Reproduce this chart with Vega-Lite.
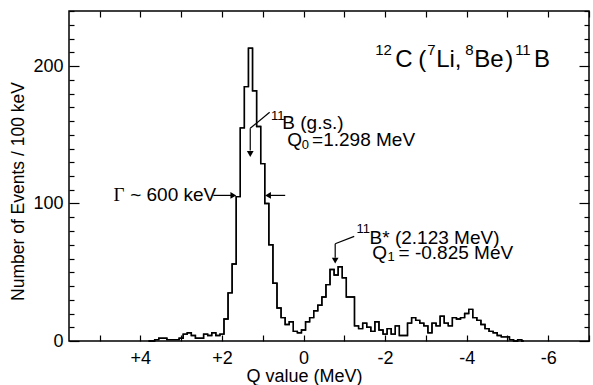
{
  "$schema": "https://vega.github.io/schema/vega-lite/v6.json",
  "width": 520,
  "height": 330,
  "autosize": "none",
  "padding": {"left": 69, "top": 11, "right": 4, "bottom": 44},
  "background": "white",
  "config": {
    "view": {"stroke": "black", "strokeWidth": 1.5},
    "font": "Liberation Sans",
    "axis": {"domain": false, "grid": false, "labelFont": "Liberation Sans", "titleFont": "Liberation Sans", "labelColor": "black", "titleColor": "black", "tickColor": "black", "tickWidth": 1.2, "titleFontWeight": "normal"}
  },
  "datasets": {
    "hist": [
      {"q": 3.8, "n": 0}, {"q": 3.7, "n": 0}, {"q": 3.6, "n": 1}, {"q": 3.5, "n": 2}, {"q": 3.4, "n": 2}, {"q": 3.3, "n": 1}, {"q": 3.2, "n": 1}, {"q": 3.1, "n": 1}, {"q": 3.0, "n": 2}, {"q": 2.9, "n": 5}, {"q": 2.8, "n": 6}, {"q": 2.7, "n": 4}, {"q": 2.6, "n": 2}, {"q": 2.5, "n": 2}, {"q": 2.4, "n": 5}, {"q": 2.3, "n": 4}, {"q": 2.2, "n": 6}, {"q": 2.1, "n": 4}, {"q": 2.0, "n": 5},
      {"q": 1.9, "n": 16}, {"q": 1.8, "n": 35}, {"q": 1.7, "n": 56}, {"q": 1.6, "n": 105}, {"q": 1.5, "n": 155}, {"q": 1.4, "n": 185}, {"q": 1.3, "n": 213}, {"q": 1.2, "n": 182}, {"q": 1.1, "n": 156}, {"q": 1.0, "n": 129}, {"q": 0.9, "n": 100}, {"q": 0.8, "n": 70}, {"q": 0.7, "n": 42}, {"q": 0.6, "n": 24}, {"q": 0.5, "n": 17}, {"q": 0.4, "n": 12}, {"q": 0.3, "n": 14}, {"q": 0.2, "n": 7}, {"q": 0.1, "n": 6}, {"q": 0.0, "n": 8},
      {"q": -0.1, "n": 14}, {"q": -0.2, "n": 17}, {"q": -0.3, "n": 22}, {"q": -0.4, "n": 26}, {"q": -0.5, "n": 32}, {"q": -0.6, "n": 41}, {"q": -0.7, "n": 52}, {"q": -0.8, "n": 48}, {"q": -0.9, "n": 54}, {"q": -1.0, "n": 46}, {"q": -1.1, "n": 32}, {"q": -1.2, "n": 32}, {"q": -1.3, "n": 11},
      {"q": -1.4, "n": 9}, {"q": -1.5, "n": 13}, {"q": -1.6, "n": 10}, {"q": -1.7, "n": 7}, {"q": -1.8, "n": 14}, {"q": -1.9, "n": 8}, {"q": -2.0, "n": 5}, {"q": -2.1, "n": 9}, {"q": -2.2, "n": 5}, {"q": -2.3, "n": 11}, {"q": -2.4, "n": 4}, {"q": -2.5, "n": 4}, {"q": -2.6, "n": 13}, {"q": -2.7, "n": 17}, {"q": -2.8, "n": 15}, {"q": -2.9, "n": 13}, {"q": -3.0, "n": 11}, {"q": -3.1, "n": 6}, {"q": -3.2, "n": 13}, {"q": -3.3, "n": 11}, {"q": -3.4, "n": 18}, {"q": -3.5, "n": 13}, {"q": -3.6, "n": 11}, {"q": -3.7, "n": 17}, {"q": -3.8, "n": 16}, {"q": -3.9, "n": 17}, {"q": -4.0, "n": 20}, {"q": -4.1, "n": 23}, {"q": -4.2, "n": 17}, {"q": -4.3, "n": 15}, {"q": -4.4, "n": 12}, {"q": -4.5, "n": 9}, {"q": -4.6, "n": 7}, {"q": -4.7, "n": 6}, {"q": -4.8, "n": 4}, {"q": -4.9, "n": 3}, {"q": -5.0, "n": 3}, {"q": -5.1, "n": 1}, {"q": -5.2, "n": 0}, {"q": -5.3, "n": 1}, {"q": -5.4, "n": 0}
    ],
    "rules": [
      {"x": 0.83, "y": 166.3, "x2": 1.306, "y2": 154.7},
      {"x": 1.306, "y": 154.7, "x2": 1.306, "y2": 138.5},
      {"x": 2.211, "y": 105.9, "x2": 1.75, "y2": 105.9},
      {"x": 0.449, "y": 105.9, "x2": 0.85, "y2": 105.9},
      {"x": -1.243, "y": 76.1, "x2": -0.777, "y2": 70.7},
      {"x": -0.777, "y": 70.7, "x2": -0.777, "y2": 60.5}
    ],
    "heads": [
      {"x": 1.306, "y": 136.0, "dir": "down"},
      {"x": 1.72, "y": 105.9, "dir": "right"},
      {"x": 0.87, "y": 105.9, "dir": "left"},
      {"x": -0.777, "y": 58.5, "dir": "down"}
    ],
    "notes": [
      {"x": 0.52, "y": 154.0, "label": "B (g.s.)"},
      {"x": 0.400, "y": 141.6, "label": "Q"},
      {"x": -0.21, "y": 141.6, "label": "=1.298 MeV"},
      {"x": -1.62, "y": 70.8, "label": "B* (2.123 MeV)"},
      {"x": -1.684, "y": 59.9, "label": "Q"},
      {"x": -2.33, "y": 59.9, "label": "= -0.825 MeV"},
      {"x": 4.25, "y": 101.6, "label": "~ 600 keV"}
    ],
    "small": [
      {"x": 0.80, "y": 160.5, "label": "11"},
      {"x": 0.044, "y": 139.4, "label": "0"},
      {"x": -1.30, "y": 78.3, "label": "11"},
      {"x": -2.058, "y": 58.0, "label": "1"}
    ],
    "gamma": [
      {"x": 4.66, "y": 101.6, "label": "Γ"}
    ],
    "titleMain": [
      {"x": -2.248, "y": 199.3, "label": "C"},
      {"x": -2.811, "y": 199.3, "label": "("},
      {"x": -3.252, "y": 199.3, "label": "Li,"},
      {"x": -4.184, "y": 199.3, "label": "Be"},
      {"x": -4.944, "y": 199.3, "label": ")"},
      {"x": -5.654, "y": 199.3, "label": "B"}
    ],
    "titleSmall": [
      {"x": -1.757, "y": 207.8, "label": "12"},
      {"x": -3.032, "y": 207.8, "label": "7"},
      {"x": -3.963, "y": 207.8, "label": "8"},
      {"x": -5.189, "y": 207.8, "label": "11"}
    ]
  },
  "resolve": {"axis": {"x": "independent", "y": "independent"}},
  "layer": [
    {
      "data": {"name": "hist"},
      "mark": {"type": "line", "interpolate": "step", "color": "black", "strokeWidth": 1.4},
      "encoding": {
        "x": {"field": "q", "type": "quantitative", "scale": {"domain": [-7.0, 5.75], "reverse": true, "nice": false, "zero": false},
          "axis": {"orient": "bottom", "values": [5, 4, 3, 2, 1, 0, -1, -2, -3, -4, -5, -6, -7], "tickSize": -6, "labelPadding": 14, "labelFontSize": 18, "labelFlush": false,
            "labelExpr": "datum.value % 2 !== 0 ? '' : (datum.value > 0 ? '+' + datum.value : (datum.value < 0 ? '-' + (-datum.value) : '0'))",
            "title": "Q value (MeV)", "titleFontSize": 18, "titleX": 235, "titleY": 40, "titleBaseline": "alphabetic"}},
        "y": {"field": "n", "type": "quantitative", "scale": {"domain": [0, 240], "nice": false},
          "axis": {"orient": "left", "values": [0, 10, 20, 30, 40, 50, 60, 70, 80, 90, 100, 110, 120, 130, 140, 150, 160, 170, 180, 190, 200, 210, 220, 230, 240],
            "tickSize": {"condition": {"test": "datum.value % 100 === 0", "value": -10}, "value": -5},
            "labelExpr": "datum.value % 100 === 0 ? datum.label : ''", "labelPadding": 16, "labelFontSize": 18, "labelFlush": false,
            "title": "Number of Events / 100 keV", "titleFontSize": 17.5, "titleX": -42, "titleY": 180}}
      }
    },
    {
      "data": {"name": "hist"},
      "mark": {"type": "line", "interpolate": "step", "color": "black", "strokeWidth": 1.4},
      "encoding": {
        "x": {"field": "q", "type": "quantitative",
          "axis": {"orient": "top", "values": [5, 4, 3, 2, 1, 0, -1, -2, -3, -4, -5, -6, -7], "tickSize": -6, "labels": false, "title": null}},
        "y": {"field": "n", "type": "quantitative",
          "axis": {"orient": "right", "values": [0, 10, 20, 30, 40, 50, 60, 70, 80, 90, 100, 110, 120, 130, 140, 150, 160, 170, 180, 190, 200, 210, 220, 230, 240],
            "tickSize": {"condition": {"test": "datum.value % 100 === 0", "value": -10}, "value": -5}, "labels": false, "title": null}}
      }
    },
    {
      "data": {"name": "rules"},
      "mark": {"type": "rule", "color": "black", "strokeWidth": 1.2},
      "encoding": {
        "x": {"field": "x", "type": "quantitative", "axis": null},
        "y": {"field": "y", "type": "quantitative", "axis": null},
        "x2": {"field": "x2"},
        "y2": {"field": "y2"}
      }
    },
    {
      "data": {"name": "heads"},
      "mark": {"type": "point", "filled": true, "color": "black", "size": 45, "opacity": 1},
      "encoding": {
        "x": {"field": "x", "type": "quantitative", "axis": null},
        "y": {"field": "y", "type": "quantitative", "axis": null},
        "shape": {"field": "dir", "type": "nominal", "legend": null, "scale": {"domain": ["down", "left", "right"], "range": ["triangle-down", "triangle-left", "triangle-right"]}}
      }
    },
    {
      "data": {"name": "notes"},
      "mark": {"type": "text", "align": "left", "baseline": "alphabetic", "fontSize": 19, "font": "Liberation Sans", "color": "black"},
      "encoding": {
        "x": {"field": "x", "type": "quantitative", "axis": null},
        "y": {"field": "y", "type": "quantitative", "axis": null},
        "text": {"field": "label"}
      }
    },
    {
      "data": {"name": "small"},
      "mark": {"type": "text", "align": "left", "baseline": "alphabetic", "fontSize": 13, "font": "Liberation Sans", "color": "black"},
      "encoding": {
        "x": {"field": "x", "type": "quantitative", "axis": null},
        "y": {"field": "y", "type": "quantitative", "axis": null},
        "text": {"field": "label"}
      }
    },
    {
      "data": {"name": "gamma"},
      "mark": {"type": "text", "align": "left", "baseline": "alphabetic", "fontSize": 19, "font": "Liberation Serif", "color": "black"},
      "encoding": {
        "x": {"field": "x", "type": "quantitative", "axis": null},
        "y": {"field": "y", "type": "quantitative", "axis": null},
        "text": {"field": "label"}
      }
    },
    {
      "data": {"name": "titleMain"},
      "mark": {"type": "text", "align": "left", "baseline": "alphabetic", "fontSize": 24, "font": "Liberation Sans", "color": "black"},
      "encoding": {
        "x": {"field": "x", "type": "quantitative", "axis": null},
        "y": {"field": "y", "type": "quantitative", "axis": null},
        "text": {"field": "label"}
      }
    },
    {
      "data": {"name": "titleSmall"},
      "mark": {"type": "text", "align": "left", "baseline": "alphabetic", "fontSize": 15, "font": "Liberation Sans", "color": "black"},
      "encoding": {
        "x": {"field": "x", "type": "quantitative", "axis": null},
        "y": {"field": "y", "type": "quantitative", "axis": null},
        "text": {"field": "label"}
      }
    }
  ]
}
